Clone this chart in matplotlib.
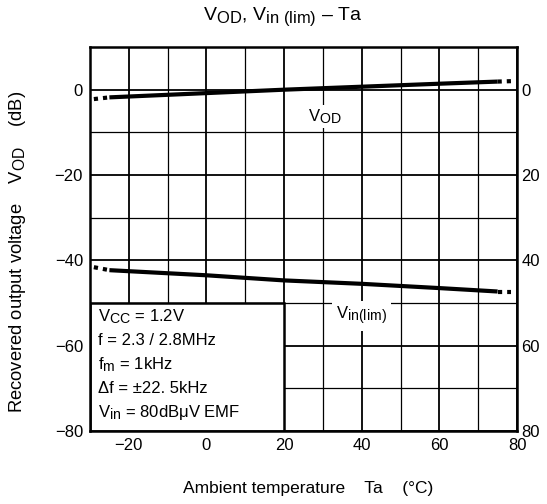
import numpy as np
import matplotlib.pyplot as plt
import matplotlib._mathtext as mt
from matplotlib.patches import Rectangle

plt.rcParams['font.family'] = ['Liberation Sans', 'DejaVu Sans']
plt.rcParams['mathtext.fontset'] = 'custom'
plt.rcParams['mathtext.rm'] = 'Liberation Sans'
plt.rcParams['mathtext.it'] = 'Liberation Sans'
mt.SHRINK_FACTOR = 0.85  # subscripts in the datasheet are nearly full size

# readings
ta = [-25, 0, 20, 40, 60, 75]
vod = [-1.8, -0.8, 0.0, 0.7, 1.4, 1.9]
vin_lim = [-42.3, -43.5, -44.7, -45.5, -46.5, -47.3]

# dotted ends outside the guaranteed range
ta_lo = [-29, -25]
vod_lo = [-2.2, -1.8]
vin_lo = [-41.6, -42.3]
ta_hi = [75, 78.5]
vod_hi = [1.9, 2.0]
vin_hi = [-47.3, -47.3]

cond = ["V$_{\\mathregular{CC}}$ = 1.2V",
        "f = 2.3 / 2.8MHz",
        "f$_{\\mathregular{m}}$ = 1kHz",
        "\u0394f = \u00b122. 5kHz",
        "V$_{\\mathregular{in}}$ = 80dB\u03bcV EMF"]

fig = plt.figure(figsize=(5.47, 5.04), dpi=100)
ax = fig.add_axes([0.1645, 0.1448, 0.7807, 0.7619])

ax.set_xlim(-30, 80)
ax.set_ylim(-80, 10)
ax.set_xticks([-20, 0, 20, 40, 60, 80])
ax.set_xticks([-10, 10, 30, 50, 70], minor=True)
ax.set_yticks([-80, -60, -40, -20, 0])
ax.set_yticks([-70, -50, -30, -10], minor=True)
ax.grid(which='major', color='black', lw=1.3)
ax.grid(which='minor', color='black', lw=0.9)
ax.tick_params(which='both', length=0, labelsize=12, pad=5)
ax.set_yticklabels(['\u221280', '\u221260', '\u221240', '\u221220', '0'])
ax.set_xticklabels(['\u221220', '0', '20', '40', '60', '80'])
for s in ax.spines.values():
    s.set_linewidth(1.8)
    s.set_zorder(5)

ax2 = ax.twinx()
ax2.set_ylim(-80, 10)
ax2.set_yticks([-80, -60, -40, -20, 0])
ax2.set_yticklabels(['80', '60', '40', '20', '0'])
ax2.tick_params(length=0, labelsize=12, pad=3)
for s in ax2.spines.values():
    s.set_visible(False)

ax.plot(ta, vod, color='black', lw=3, zorder=4, solid_capstyle='butt')
ax.plot(ta, vin_lim, color='black', lw=3, zorder=4, solid_capstyle='butt')
for xs, ys in [(ta_lo, vod_lo), (ta_lo, vin_lo), (ta_hi, vod_hi), (ta_hi, vin_hi)]:
    ax.plot(xs, ys, color='black', lw=3, ls=(0, (1, 1.2)), zorder=4)

ax.text(30.5, -6.3, 'V$_{\\mathregular{OD}}$', fontsize=12, ha='center', va='center',
        zorder=6, bbox=dict(facecolor='white', edgecolor='none', pad=1.5))
ax.text(40, -53, 'V$_{\\mathregular{in(lim)}}$', fontsize=12, ha='center', va='center',
        zorder=6, bbox=dict(facecolor='white', edgecolor='none', pad=3))

ax.add_patch(Rectangle((-30, -80), 50, 30, facecolor='white', edgecolor='black',
                       lw=1.8, zorder=5))
for i, line in enumerate(cond):
    ax.text(-28, -53.3 - i * 5.6, line, fontsize=12, ha='left', va='center', zorder=6)

fig.text(308 / 547, 1 - 489 / 504, 'Ambient temperature    Ta    (\u00b0C)',
         fontsize=12.5, ha='center', va='center')
fig.text(18 / 547, 1 - 252 / 504,
         'Recovered output voltage    V$_{\\mathregular{OD}}$    (dB)',
         fontsize=13.2, ha='center', va='center', rotation=90)
fig.text(283 / 547, 1 - 17 / 504,
         'V$_{\\mathregular{OD}}$, V$_{\\mathregular{in\\ (lim)}}$ \u2013 Ta',
         fontsize=14, ha='center', va='center')

fig.savefig('out.png', dpi=100)
